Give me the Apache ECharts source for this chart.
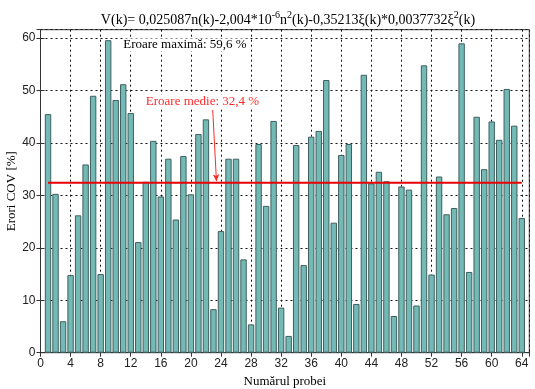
<!DOCTYPE html>
<html><head><meta charset="utf-8">
<script src="https://cdn.jsdelivr.net/npm/echarts@6/dist/echarts.min.js"></script>
<style>html,body{margin:0;padding:0;background:#fff}#c{width:535px;height:389px}</style>
</head><body><div id="c"></div>
<script>
const probe = Array.from({length:64},(_,i)=>i+1);
const errors = [45.5,30.3,6.0,14.8,26.2,35.9,49.0,15.0,59.6,48.2,51.2,45.7,21.1,32.6,40.4,29.8,37.0,25.4,37.5,30.2,41.7,44.5,8.3,23.2,37.0,37.0,17.8,5.4,39.8,28.0,44.2,8.6,3.2,39.6,16.7,41.2,42.3,52.0,24.8,37.7,39.8,9.3,53.0,32.3,34.5,32.7,7.0,31.7,31.1,9.0,54.8,14.9,33.6,26.4,27.6,59.0,15.4,45.0,35.0,44.1,40.6,50.3,43.3,25.7];
const meanValue = 32.4;
const maxValue = 59.6;
const meanRange = [1,64];
const arrowFrom = [22.9,46.3];
const arrowTo = [23.4,32.7];
const maxTextAt = [11.0,58.7];
const meanTextAt = [14.0,47.9];

const chart = echarts.init(document.getElementById('c'));
const serif = '"Liberation Serif","DejaVu Serif",serif';
const sans = '"Liberation Sans","DejaVu Sans",sans-serif';
const axisCommon = {
  axisLine:{show:true,lineStyle:{color:'#333',width:1}},
  axisTick:{show:true,inside:true,length:4,lineStyle:{color:'#333'}},
};
chart.setOption({
  animation:false,
  title:{
    text:'{n|V(k)= 0,025087n(k)-2,004*10}{s|-6}{n|n}{s|2}{n|(k)-0,35213ξ(k)*0,0037732ξ}{s|2}{n|(k)}',
    left:283, top:5, textAlign:'center',
    textStyle:{fontWeight:'normal',rich:{
      n:{fontFamily:serif,fontSize:14,fontWeight:'normal',color:'#000',verticalAlign:'bottom',lineHeight:17},
      s:{fontFamily:serif,fontSize:10,fontWeight:'normal',color:'#000',verticalAlign:'top',lineHeight:17,padding:[0,0,7,0]}
    }}
  },
  grid:{left:40.5,right:5.7,top:29.7,bottom:36.3,outerBoundsMode:'none',containLabel:false,show:true,borderColor:'#333',borderWidth:1},
  xAxis:[{
    type:'value',min:0,max:65,interval:4,
    ...axisCommon,
    axisLabel:{color:'#222',fontFamily:sans,fontSize:12,margin:5,showMaxLabel:false},
    splitLine:{show:true,lineStyle:{color:'#111',type:[2,3],width:1}},
    name:'Numărul probei',nameLocation:'middle',nameGap:22,nameMoveOverlap:false,
    nameTextStyle:{fontFamily:serif,fontSize:13,color:'#000'}
  },{
    type:'value',min:0,max:65,interval:4,position:'top',
    ...axisCommon,axisLabel:{show:false},splitLine:{show:false}
  }],
  yAxis:[{
    type:'value',min:0,max:61.6,interval:10,
    ...axisCommon,
    axisLabel:{color:'#222',fontFamily:sans,fontSize:12,margin:5,showMaxLabel:false},
    splitLine:{show:true,lineStyle:{color:'#111',type:[2,3],width:1}},
    name:'Erori COV [%]',nameLocation:'middle',nameGap:22,nameMoveOverlap:false,
    nameTextStyle:{fontFamily:serif,fontSize:13,color:'#000'}
  },{
    type:'value',min:0,max:61.6,interval:10,position:'right',
    ...axisCommon,axisLabel:{show:false},splitLine:{show:false}
  }],
  series:[{
    type:'bar',
    data:probe.map((p,i)=>[p,errors[i]]),
    barWidth:6.4,
    itemStyle:{color:'#73bab6',borderColor:'#3f5f5e',borderWidth:1},
    z:2
  },{
    type:'line',
    data:meanRange.map(x=>[x,meanValue]),
    symbol:'none',
    lineStyle:{color:'#e60000',width:2},
    z:4,
    markLine:{
      silent:true,symbol:['none','arrow'],symbolSize:[5,7],
      label:{show:false},
      lineStyle:{color:'#ff2a2a',width:1,type:'solid'},
      data:[[{coord:arrowFrom},{coord:arrowTo}]]
    }
  }]
});
const pMax = chart.convertToPixel({xAxisIndex:0,yAxisIndex:0},maxTextAt);
const pMean = chart.convertToPixel({xAxisIndex:0,yAxisIndex:0},meanTextAt);
chart.setOption({graphic:[
  {type:'text',x:pMax[0],y:pMax[1],z:10,style:{text:'Eroare maximă: '+String(maxValue).replace('.',',')+' %',font:'13px '+serif,fill:'#000',backgroundColor:'#fff',verticalAlign:'middle',align:'left'}},
  {type:'text',x:pMean[0],y:pMean[1],z:10,style:{text:'Eroare medie: '+String(meanValue).replace('.',',')+' %',font:'13px '+serif,fill:'#ff2a2a',backgroundColor:'#fff',verticalAlign:'middle',align:'left'}}
]});
</script></body></html>
